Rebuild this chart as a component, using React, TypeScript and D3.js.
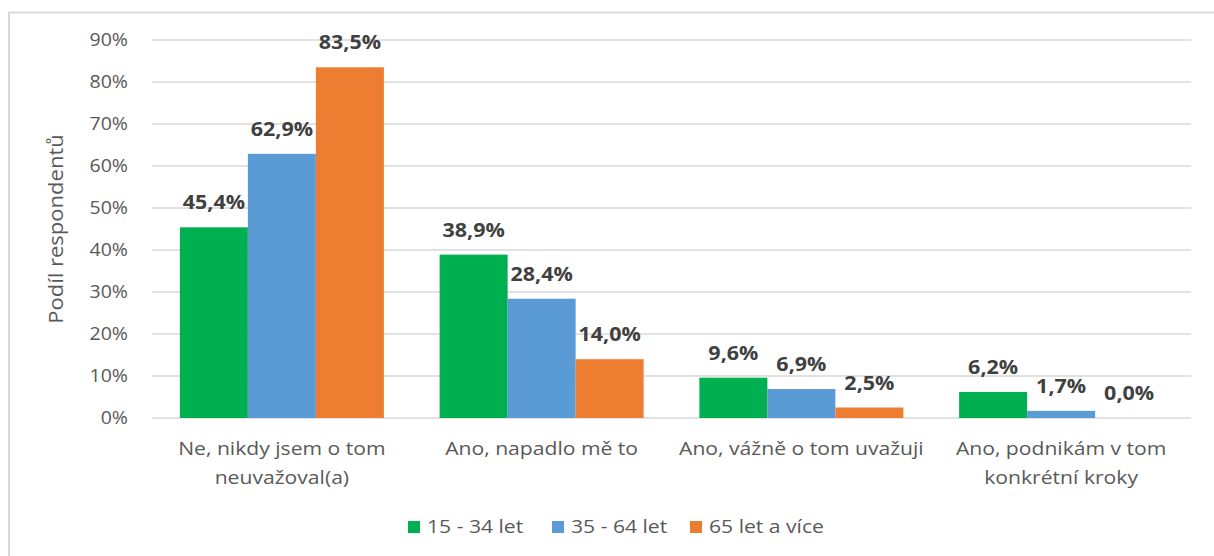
import React from "react";
import * as d3 from "d3";

const categories: string[][] = [
  ["Ne, nikdy jsem o tom", "neuvažoval(a)"],
  ["Ano, napadlo mě to"],
  ["Ano, vážně o tom uvažuji"],
  ["Ano, podnikám v tom", "konkrétní kroky"],
];
const seriesNames = ["15 - 34 let", "35 - 64 let", "65 let a více"];
const seriesColors = ["#00B050", "#5B9BD5", "#ED7D31"];
const values15_34 = [45.4, 38.9, 9.6, 6.2];
const values35_64 = [62.9, 28.4, 6.9, 1.7];
const values65 = [83.5, 14.0, 2.5, 0.0];
const yTicks = [0, 10, 20, 30, 40, 50, 60, 70, 80, 90];
const yTitle = "Podíl respondentů";

const W = 1214;
const H = 556;
const FONT = "'Open Sans', sans-serif";
const SX = 1.13;

function T(props: {
  x: number;
  y: number;
  anchor?: string;
  size: number;
  weight?: string;
  fill: string;
  rotate?: number;
  children: React.ReactNode;
}) {
  const { x, y, anchor = "start", size, weight = "normal", fill, rotate = 0, children } = props;
  return (
    <text
      transform={`translate(${x},${y}) rotate(${rotate}) scale(${SX},1)`}
      textAnchor={anchor}
      fontSize={size}
      fontWeight={weight}
      fill={fill}
    >
      {children}
    </text>
  );
}

export default function App() {
  const series = [values15_34, values35_64, values65];
  const left = 152;
  const right = 1191;
  const top = 40;
  const bottom = 418;

  const x0 = d3
    .scaleBand<number>()
    .domain(d3.range(categories.length))
    .range([left, right])
    .paddingInner(0.2146)
    .paddingOuter(0.1073);
  const x1 = d3
    .scaleBand<number>()
    .domain(d3.range(series.length))
    .range([0, x0.bandwidth()]);
  const y = d3.scaleLinear().domain([0, 90]).range([bottom, top]);
  const fmt = (v: number) => v.toFixed(1).replace(".", ",") + "%";

  const legendX = [408, 552, 690];

  return (
    <svg
      width={W}
      height={H}
      style={{ position: "absolute", left: 0, top: 0, background: "#fff" }}
      fontFamily={FONT}
    >
      <rect x={0} y={0} width={W} height={H} fill="#fff" />
      <rect x={9} y={12.5} width={W + 20} height={H + 20} fill="none" stroke="#d9d9d9" strokeWidth={2} />
      {yTicks.map((t) => (
        <g key={t}>
          <line x1={left} x2={right} y1={y(t)} y2={y(t)} stroke="#d9d9d9" strokeWidth={1.3} />
          <T x={128} y={y(t) + 6} anchor="end" size={17.3} fill="#595959">
            {t + "%"}
          </T>
        </g>
      ))}
      <T x={63} y={229} rotate={-90} anchor="middle" size={19.5} fill="#595959">
        {yTitle}
      </T>
      {categories.map((cat, ci) => (
        <g key={ci}>
          {series.map((vals, si) => {
            const bx = (x0(ci) as number) + (x1(si) as number);
            const bw = x1.bandwidth();
            const v = vals[ci];
            return (
              <g key={si}>
                {v > 0 && (
                  <rect x={bx} y={y(v)} width={bw} height={bottom - y(v)} fill={seriesColors[si]} />
                )}
                <T x={bx + bw / 2} y={y(v) - 18} anchor="middle" size={19} weight="bold" fill="#404040">
                  {fmt(v)}
                </T>
              </g>
            );
          })}
          {cat.map((line, li) => (
            <T
              key={li}
              x={(x0(ci) as number) + x0.bandwidth() / 2}
              y={455 + li * 29}
              anchor="middle"
              size={18.7}
              fill="#595959"
            >
              {line}
            </T>
          ))}
        </g>
      ))}
      {seriesNames.map((name, si) => (
        <g key={si}>
          <rect x={legendX[si]} y={521} width={12} height={12} fill={seriesColors[si]} />
          <T x={legendX[si] + 19} y={533} size={18.7} fill="#595959">
            {name}
          </T>
        </g>
      ))}
    </svg>
  );
}
